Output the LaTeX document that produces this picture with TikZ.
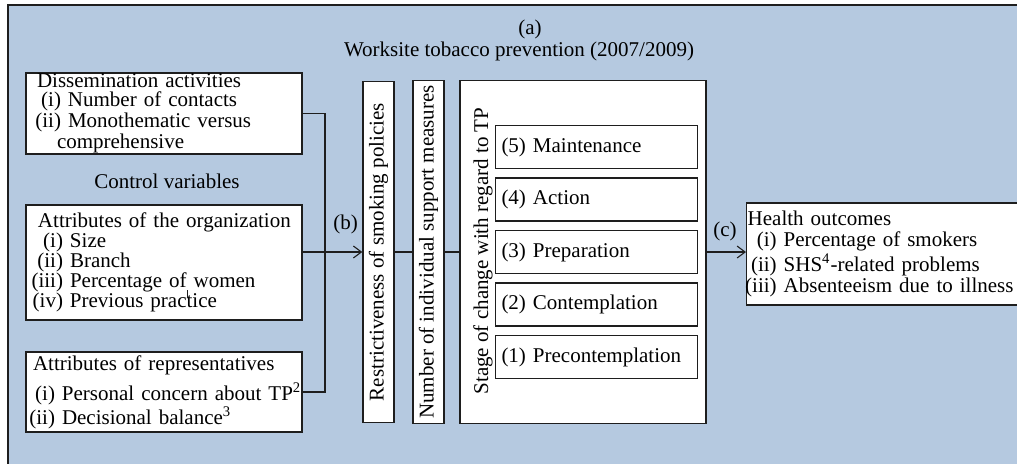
\documentclass[tikz,border=0pt]{standalone}
\usepackage{fontspec}
\setmainfont{Liberation Serif}
\usepackage{tikz}
\usetikzlibrary{arrows.meta,positioning}

\definecolor{panel}{RGB}{181,201,224}
\definecolor{rim}{RGB}{30,30,30}
\newcommand{\lab}[2][15pt]{\makebox[#1][r]{#2}\ }

\begin{document}
\begin{tikzpicture}[x = 0.5pt, y = -0.5pt, node distance = 26.25pt, on grid,
    font = \fontsize{10.5}{10}\selectfont,
    > = {Straight Barb[length=4pt, width=6pt]},
    box/.style = {draw = rim, fill = white, line width = 0.7pt, inner sep = 0pt},
    attr/.style = {box, minimum width = 138pt, text width = 136pt, inner xsep = 1pt, align = left},
    bar/.style = {box, rotate = 90, minimum height = 15.5pt},
    stage/.style = {box, minimum width = 100.5pt, minimum height = 21.5pt, text width = 95pt, inner xsep = 3pt, align = left},
    conn/.style = {draw = rim, line width = 0.55pt}]
   \useasboundingbox (0,0) rectangle (1017,463);
   \fill[panel] (8,5) rectangle (1040,480);
   \draw[rim, line width = 1pt] (8,480) -- (8,5) -- (1040,5);

   % title
   \node (a) at (530,29) {(a)};
   \node (title) at (519,51) {Worksite tobacco prevention (2007/2009)};

   % left column
   \node[attr, minimum height = 40.5pt, font = \fontsize{10.5}{9.3}\selectfont] (dis) at (164,113.5)
     {\hspace*{4.5pt}Dissemination activities\\
      \hspace*{1.5pt}\lab{(i)}Number of contacts\\
      \hspace*{1.5pt}\lab{(ii)}Monothematic versus\\
      \hspace*{14.5pt}comprehensive};
   \node (cv) at (167,181) {Control variables};
   \node[attr, minimum height = 57.5pt] (org) at (164,262.5)
     {\hspace*{5pt}Attributes of the organization\\
      \hspace*{1.5pt}\lab[16pt]{(i)}Size\\
      \hspace*{1.5pt}\lab[16pt]{(ii)}Branch\\
      \hspace*{1.5pt}\lab[16pt]{(iii)}Percentage of women\\
      \hspace*{1.5pt}\lab[16pt]{(iv)}Previous practice};
   \draw[rim, line width = 0.4pt] (187,290) -- (187,298);
   \node[attr, minimum height = 40pt] (rep) at (164,392)
     {\hspace*{2.5pt}Attributes of representatives\\[3pt]
      \mbox{\hspace*{0.5pt}\lab[13pt]{(i)}Personal concern about TP\textsuperscript{2}}\\
      \mbox{\hspace*{0.5pt}\lab[13pt]{(ii)}Decisional balance\textsuperscript{3}}};

   % middle
   \node[bar, minimum width = 170.5pt] (res) at (378.5,252) {Restrictiveness of smoking policies};
   \node[bar, minimum width = 171.5pt] (num) at (428.5,252) {Number of individual support measures};
   \node[box, minimum width = 123pt, minimum height = 171.5pt] (stg) at (583,252) {};
   \node[rotate = 90] (stl) at (483,251) {Stage of change with regard to TP};
   \node[stage] (s_5) at (596.5,147) {(5) Maintenance};
   \node[stage] (s_4) [below = of s_5] {(4) Action};
   \node[stage] (s_3) [below = of s_4] {(3) Preparation};
   \node[stage] (s_2) [below = of s_3] {(2) Contemplation};
   \node[stage] (s_1) [below = of s_2] {(1) Precontemplation};

   % right
   \node[box, anchor = west, minimum width = 142pt, minimum height = 51pt, text width = 141pt,
         inner xsep = 0.5pt, align = left, font = \fontsize{10.5}{10.8}\selectfont] (hl) at (746,254)
     {Health outcomes\\
      \lab[14.5pt]{(i)}Percentage of smokers\\
      \lab[14.5pt]{(ii)}SHS\textsuperscript{4}-related problems\\
      \lab[14.5pt]{(iii)}Absenteeism due to illness};

   % connectors
   \coordinate (jn) at (325,252);
   \draw[conn] (dis.east) -| (jn);
   \draw[conn] (rep.east) -| (jn);
   \path[conn]
    (org.east |- jn) edge[->] (res.north)
    (res.south) edge (num.north)
    (num.south) edge (stg.west)
    (stg.east) edge[->] (stg.east -| hl.west);
   \node (b) at (345.5,224) {(b)};
   \node (c) at (725,231) {(c)};
\end{tikzpicture}
\end{document}
